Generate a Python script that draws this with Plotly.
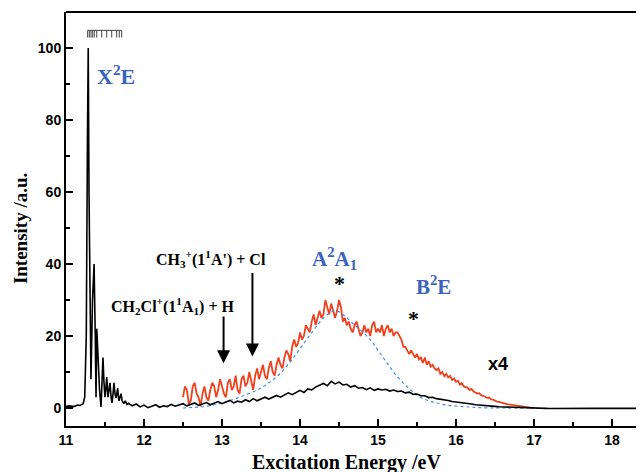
import numpy as np
import plotly.graph_objects as go

# ---------------- data ----------------
# black spectrum, detailed X2E band region (explicit energies)
black_peak_e = [11.00, 11.05, 11.10, 11.15, 11.18, 11.20, 11.22, 11.24, 11.26, 11.275, 11.285, 11.295,
                11.31, 11.32, 11.34, 11.36, 11.375, 11.385, 11.395, 11.405, 11.415, 11.43, 11.449,
                11.462, 11.474, 11.487, 11.50, 11.51, 11.522, 11.538, 11.552, 11.564, 11.578, 11.59,
                11.603, 11.615, 11.628, 11.641, 11.652, 11.663, 11.672, 11.68, 11.692, 11.705, 11.72,
                11.74, 11.76, 11.78]
black_peak_i = [0.5, 0.6, 0.4, 0.8, 0.7, 1.0, 1.2, 3.0, 20, 75, 100, 60,
                12, 8, 30, 40, 20, 3, 22, 16, 11, 5, 0.3,
                8, 14, 7, 3, 5, 8.6, 3, 5, 7, 3, 1.4,
                4, 7, 4, 2.8, 4, 5.5, 3, 2, 3, 4, 2,
                1.2, 2, 1.0]
# black spectrum, remaining range on a 0.05 eV grid starting at 11.80 eV
black_grid_start = 11.80
black_grid_step = 0.05
black_grid_i = [1.3, 0.6, 1.1, 0.3, 0.8, 0.1, 0.5, 0.9, 0.2, 0.6,
                0.4, 1.0, 0.5, 0.8, 1.2, 0.6, 1.0, 1.4, 0.7, 1.1,
                1.5, 0.9, 1.3, 1.8, 1.2, 1.6, 2.1, 1.4, 1.9, 1.6,
                2.3, 1.8, 2.6, 2.0, 2.4, 3.0, 2.5, 2.9, 3.5, 3.0,
                3.6, 4.2, 3.7, 4.4, 4.9, 4.3, 5.3, 5.0, 5.8, 6.3,
                6.8, 6.2, 7.4, 6.7, 7.2, 6.4, 6.6, 5.8, 6.2, 5.5,
                5.7, 5.1, 5.6, 4.9, 5.3, 5.0, 5.2, 4.7, 5.0, 4.6,
                4.7, 4.2, 4.4, 3.8, 3.9, 3.4, 3.4, 2.9, 3.0, 2.6,
                2.5, 2.2, 2.1, 1.8, 1.7, 1.5, 1.4, 1.2, 1.1, 0.9,
                0.85, 0.7, 0.65, 0.5, 0.45, 0.35, 0.3, 0.2, 0.2, 0.1,
                0.1, 0.0, 0.0, -0.1, -0.1, -0.1, -0.15, -0.1, -0.12, -0.1,
                -0.15, -0.1, -0.1, -0.12, -0.1, -0.15, -0.1, -0.1, -0.12, -0.1,
                -0.1, -0.12, -0.1, -0.1, -0.12, -0.1, -0.1, -0.1, -0.1, -0.1,
                -0.1, -0.1, -0.1]

# red spectrum (x4), 0.025 eV grid starting at 12.5 eV
red_start = 12.5
red_step = 0.025
red_i = [3, 6, 5, 1, 2, 6, 7, 4, 3, 0.5,
         4, 6, 3, 2, 5, 7, 6, 3, 5, 8,
         6, 4, 3, 7, 8, 5, 6, 9, 5, 4,
         8, 9, 6, 7, 10, 7, 5, 9, 11, 8,
         10, 12, 9, 8, 11, 13, 10, 9, 12, 14,
         12, 11, 14, 16, 15, 13, 17, 19, 17, 18,
         21, 19, 20, 23, 22, 21, 24, 26, 23, 25,
         27, 25, 26, 30, 28, 26, 29, 27, 25, 27,
         30, 28, 24, 25, 23, 24, 22, 21, 23, 24,
         22, 20, 21, 23, 21, 22, 20, 23, 24, 21,
         22, 21, 23, 20, 22, 23, 21, 22, 20, 21,
         21, 20, 19, 17, 17, 16, 15, 16, 15, 14,
         15, 13.5, 14, 12.5, 14, 12, 13, 11.5, 12, 11,
         10.5, 11, 9.5, 10, 8.8, 9.5, 8.5, 8.9, 7.8, 8.2,
         7.3, 7.6, 6.5, 6.9, 6.0, 5.9, 5.6, 5.0, 5.3, 4.6,
         4.4, 4.0, 4.1, 3.5, 3.4, 3.2, 2.8, 2.9, 2.4, 2.3,
         2.0, 1.8, 1.7, 1.5, 1.4, 1.2, 1.1, 1.0, 0.9, 0.8,
         0.7, 0.6, 0.5, 0.45, 0.35, 0.3, 0.25, 0.2, 0.1, 0.05,
         0]

# blue dotted fit of the A2A1 band
blue_e = [12.5, 12.8, 13.0, 13.2, 13.45, 13.6, 13.74, 13.9, 14.05, 14.17, 14.3, 14.4, 14.47,
          14.55, 14.65, 14.73, 14.9, 15.0, 15.1, 15.2, 15.32, 15.43, 15.54, 15.7, 15.88, 16.1,
          16.3, 16.6, 17.0]
blue_i = [0, 0.5, 1.4, 2.8, 5.0, 7.0, 9.5, 13.5, 18, 21.5, 25, 26.7, 27,
          26, 24, 22.5, 19, 16, 13, 10, 7, 4.8, 3, 1.7, 0.8, 0.4,
          0.1, 0, 0]

# vibrational comb positions (eV)
comb_e = [11.278, 11.299, 11.321, 11.342, 11.363, 11.394, 11.458, 11.522, 11.586, 11.65, 11.683, 11.714]

x_ticks = [11, 12, 13, 14, 15, 16, 17, 18]
y_ticks = [0, 20, 40, 60, 80, 100]

# ---------------- build ----------------
black_grid_e = [round(black_grid_start + black_grid_step * k, 3) for k in range(len(black_grid_i))]
black_e = black_peak_e + black_grid_e
black_y = black_peak_i + black_grid_i
red_e = [round(red_start + red_step * k, 3) for k in range(len(red_i))]

SERIF = "Liberation Serif, Times New Roman, serif"
SANS = "Liberation Sans, Arial, sans-serif"
BLUE_TXT = "#3a62c0"

fig = go.Figure()
fig.add_trace(go.Scatter(x=red_e, y=red_i, mode="lines",
                         line=dict(color="#f0401e", width=1.8), showlegend=False))
fig.add_trace(go.Scatter(x=blue_e, y=blue_i, mode="lines", line_shape="spline",
                         line=dict(color="#3f8ee6", width=1.2, dash="dot"), showlegend=False))
fig.add_trace(go.Scatter(x=black_e, y=black_y, mode="lines",
                         line=dict(color="black", width=1.6), showlegend=False))

shapes = [dict(type="line", xref="paper", yref="paper", x0=0, x1=1, y0=1, y1=1,
               line=dict(color="black", width=2))]
shapes.append(dict(type="line", xref="x", yref="y", x0=comb_e[0], x1=comb_e[-1], y0=104.9, y1=104.9,
                   line=dict(color="#444", width=1)))
for e in comb_e:
    shapes.append(dict(type="line", xref="x", yref="y", x0=e, x1=e, y0=104.9, y1=102.9,
                       line=dict(color="#444", width=1)))

ann = []
def txt(x, y, s, color="black", size=16, font=SERIF, weight="bold"):
    ann.append(dict(x=x, y=y, xref="x", yref="y", text=s, showarrow=False,
                    font=dict(family=font, size=size, color=color, weight=weight),
                    xanchor="center", yanchor="middle"))

txt(11.64, 92.5, "X<sup>2</sup>E", BLUE_TXT, 22)
txt(14.44, 41.5, "A<sup>2</sup>A<sub>1</sub>", BLUE_TXT, 21)
txt(15.71, 34.0, "B<sup>2</sup>E", BLUE_TXT, 21)
txt(14.51, 34.5, "*", "black", 22)
txt(15.46, 24.8, "*", "black", 22)
txt(16.54, 12.2, "x4", "black", 18, SANS)
txt(12.86, 41.5, "CH<sub>3</sub><sup>+</sup>(1<sup>1</sup>A') + Cl", "black", 16)
txt(12.37, 28.3, "CH<sub>2</sub>Cl<sup>+</sup>(1<sup>1</sup>A<sub>1</sub>) + H", "black", 16)

for xa, ytail, ytip in [(13.02, 25.8, 12.4), (13.39, 37.9, 14.3)]:
    ann.append(dict(x=xa, y=ytip, ax=xa, ay=ytail, xref="x", yref="y", axref="x", ayref="y",
                    text="", showarrow=True, arrowhead=2, arrowsize=1.3, arrowwidth=2,
                    arrowcolor="black"))

ann.append(dict(x=14.6, y=-0.087, xref="x", yref="paper", text="Excitation Energy /eV",
                showarrow=False, font=dict(family=SERIF, size=20, color="black", weight="bold"),
                xanchor="center", yanchor="middle"))
ann.append(dict(x=-0.0796, y=0.478, xref="paper", yref="paper", text="Intensity /a.u.",
                showarrow=False, textangle=-90,
                font=dict(family=SERIF, size=19, color="black", weight="bold"),
                xanchor="center", yanchor="middle"))

# page body has an 8px default margin, so the figure is sized/offset to compensate
fig.update_layout(
    width=636, height=464,
    margin=dict(l=58, r=0, t=4, b=46),
    paper_bgcolor="white", plot_bgcolor="white",
    shapes=shapes, annotations=ann,
    xaxis=dict(range=[11, 18.41], tickvals=x_ticks, ticktext=[str(v) for v in x_ticks],
               ticks="inside", ticklen=7, tickwidth=2, tickcolor="black",
               minor=dict(ticks="inside", ticklen=4, tickwidth=1.5, dtick=0.5, tick0=11, tickcolor="black"),
               showline=True, linecolor="black", linewidth=2, showgrid=False, zeroline=False,
               tickfont=dict(family=SANS, size=14, color="black", weight="bold")),
    yaxis=dict(range=[-5, 110], tickvals=y_ticks, ticktext=[str(v) for v in y_ticks],
               ticks="inside", ticklen=7, tickwidth=2, tickcolor="black",
               minor=dict(ticks="inside", ticklen=4, tickwidth=1.5, dtick=10, tick0=0, tickcolor="black"),
               showline=True, linecolor="black", linewidth=2, showgrid=False, zeroline=False,
               tickfont=dict(family=SANS, size=14, color="black", weight="bold")),
)

fig.write_html("out.html")
